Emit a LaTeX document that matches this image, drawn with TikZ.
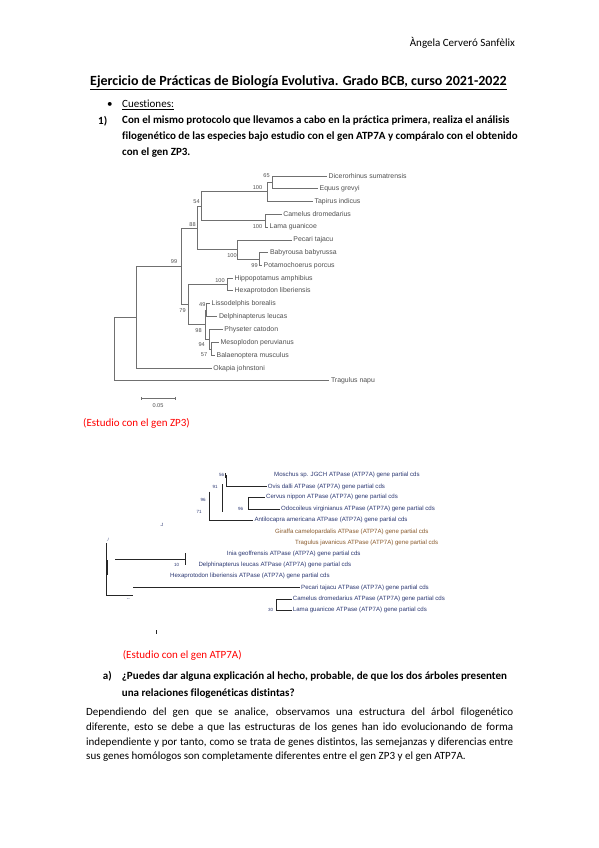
\documentclass[tikz,border=0pt]{standalone}
\usepackage{fontspec}
\setmainfont{Carlito}[Ligatures=NoCommon]
\newfontfamily\treefont{Liberation Sans}
\usetikzlibrary{positioning}
\definecolor{capred}{HTML}{FF0000}
\definecolor{treegray}{HTML}{707070}
\definecolor{labgray}{HTML}{505050}
\definecolor{atpblue}{HTML}{2B3772}
\definecolor{atpbrown}{HTML}{8A5A2B}

\begin{document}
\begin{tikzpicture}[x=1pt,y=-1pt,
    txt/.style={anchor=west,inner sep=0pt,font=\fontsize{11}{13}\selectfont},
    bold/.style={txt,font=\fontsize{11}{13}\selectfont\bfseries},
    caption/.style={txt,text=capred},
    leaf/.style={anchor=west,inner sep=1.5pt,text=labgray,font=\treefont\fontsize{6.9}{7}\selectfont},
    boot/.style={inner sep=0pt,text=labgray,font=\treefont\fontsize{5.6}{6}\selectfont},
    branch/.style={treegray,line width=0.6pt},
    gene/.style={anchor=west,inner sep=1pt,text=atpblue,font=\treefont\fontsize{6.1}{7}\selectfont},
    gboot/.style={inner sep=0pt,text=atpblue,font=\treefont\fontsize{4.5}{5}\selectfont},
    gbranch/.style={black!85,line width=0.8pt}]
    \fill[white] (0,0) rectangle (599,848);
    \useasboundingbox (0,0) rectangle (599,848);

    % cabecera y enunciado
    \node[txt,anchor=east] (autor) at (515,43) {Àngela Cerveró Sanfèlix};
    \node[txt,font=\fontsize{14}{16}\selectfont\bfseries] (titulo) at (90,83)
      {\underline{Ejercicio de Prácticas de Biología Evolutiva. Grado BCB, curso 2021-2022}};
    \node[txt] (bala) at (107,105) {•};
    \node[txt] (cuest) at (122,105) {\underline{Cuestiones:}};
    \node[bold] (num1) at (98,121) {1)};
    \node[bold] (q1a) at (122,121) {Con el mismo protocolo que llevamos a cabo en la práctica primera, realiza el análisis};
    \node[bold,below=16pt of q1a.west,anchor=west] (q1b) {filogenético de las especies bajo estudio con el gen ATP7A y compáralo con el obtenido};
    \node[bold,below=16pt of q1b.west,anchor=west] (q1c) {con el gen ZP3.};

    % arbol ZP3
    \coordinate (n65) at (272,182.2);
    \coordinate (n100a) at (267,191.7);
    \coordinate (n100b) at (265.5,220.7);
    \coordinate (n54) at (201.7,206.2);
    \coordinate (n99b) at (259.3,259.2);
    \coordinate (n100c) at (237.3,249.6);
    \coordinate (n88) at (197.7,227.9);
    \coordinate (n100d) at (227,284.4);
    \coordinate (n49) at (206.7,310.1);
    \coordinate (n57) at (211,348.9);
    \coordinate (n94) at (209.7,339.2);
    \coordinate (n98) at (205,324.7);
    \coordinate (n79) at (188.3,304.5);
    \coordinate (n99a) at (181.7,266.2);
    \coordinate (nok) at (136,317.3);
    \coordinate (root) at (114,349);

    \node[leaf] (dic) at (327,176) {Dicerorhinus sumatrensis};
    \node[leaf] (equ) at (318,188.3) {Equus grevyi};
    \node[leaf] (tap) at (313,201.3) {Tapirus indicus};
    \node[leaf] (cam) at (281.7,214.3) {Camelus dromedarius};
    \node[leaf] (lam) at (268,227) {Lama guanicoe};
    \node[leaf] (pec) at (291.7,240) {Pecari tajacu};
    \node[leaf] (bab) at (268.3,252.7) {Babyrousa babyrussa};
    \node[leaf] (pot) at (262,265.7) {Potamochoerus porcus};
    \node[leaf] (hip) at (233,278.3) {Hippopotamus amphibius};
    \node[leaf] (hex) at (233,290.5) {Hexaprotodon liberiensis};
    \node[leaf] (lis) at (210,303.5) {Lissodelphis borealis};
    \node[leaf] (del) at (217.3,316.7) {Delphinapterus leucas};
    \node[leaf] (phy) at (222.7,329.5) {Physeter catodon};
    \node[leaf] (mes) at (219,342.5) {Mesoplodon peruvianus};
    \node[leaf] (bal) at (215,355.3) {Balaenoptera musculus};
    \node[leaf] (oka) at (211.7,368.3) {Okapia johnstoni};
    \node[leaf] (tra) at (329.3,380.7) {Tragulus napu};

    \draw[branch] (n65) |- (dic.west) (n65) |- (equ.west)
      (n100a) |- (n65) (n100a) |- (tap.west)
      (n100b) |- (cam.west) (n100b) |- (lam.west)
      (n54) |- (n100a) (n54) |- (n100b)
      (n99b) |- (bab.west) (n99b) |- (pot.west)
      (n100c) |- (pec.west) (n100c) |- (n99b)
      (n88) |- (n54) (n88) |- (n100c)
      (n100d) |- (hip.west) (n100d) |- (hex.west)
      (n49) |- (lis.west) (n49) |- (del.west)
      (n57) |- (mes.west) (n57) |- (bal.west)
      (n94) |- (phy.west) (n94) |- (n57)
      (n98) |- (n49) (n98) |- (n94)
      (n79) |- (n100d) (n79) |- (n98)
      (n99a) |- (n88) (n99a) |- (n79)
      (nok) |- (n99a) (nok) |- (oka.west)
      (root) |- (nok) (root) |- (tra.west);

    \node[boot] (b65) at (266.5,176) {65};
    \node[boot] (b100a) at (257.5,187.5) {100};
    \node[boot] (b54) at (196.5,202) {54};
    \node[boot] (b88) at (192.5,225) {88};
    \node[boot] (b100b) at (257.5,227) {100};
    \node[boot] (b100c) at (232,256) {100};
    \node[boot] (b99b) at (254.5,266) {99};
    \node[boot] (b99a) at (174,262) {99};
    \node[boot] (b100d) at (220,280.7) {100};
    \node[boot] (b49) at (202.3,305) {49};
    \node[boot] (b79) at (182.5,311) {79};
    \node[boot] (b98) at (198.5,331) {98};
    \node[boot] (b94) at (201.7,345) {94};
    \node[boot] (b57) at (204,355) {57};

    \coordinate (sb1) at (141,398.3);
    \coordinate (sb2) at (175,398.3);
    \draw[branch] (sb1) -- (sb2) ([yshift=1.5pt]sb1) -- ([yshift=-1.5pt]sb1)
      ([yshift=1.5pt]sb2) -- ([yshift=-1.5pt]sb2);
    \node[boot] (sbl) at (158,406) {0.05};

    \node[caption] (capzp) at (83,423) {(Estudio con el gen ZP3)};

    % arbol ATP7A
    \node[gene] (mos) at (273,475) {Moschus sp. JGCH ATPase (ATP7A) gene partial cds};
    \node[gene] (ovi) at (266.7,486.7) {Ovis dalli ATPase (ATP7A) gene partial cds};
    \node[gene] (cer) at (265,497.3) {Cervus nippon ATPase (ATP7A) gene partial cds};
    \node[gene] (odo) at (280,509.3) {Odocoileus virginianus ATPase (ATP7A) gene partial cds};
    \node[gene] (ant) at (253.3,520) {Antilocapra americana ATPase (ATP7A) gene partial cds};
    \node[gene,text=atpbrown] (gir) at (274,531.7) {Giraffa camelopardalis ATPase (ATP7A) gene partial cds};
    \node[gene,text=atpbrown] (trg) at (294,543.3) {Tragulus javanicus ATPase (ATP7A) gene partial cds};
    \node[gene] (ini) at (225.7,554.3) {Inia geoffrensis ATPase (ATP7A) gene partial cds};
    \node[gene] (dlp) at (197.3,565) {Delphinapterus leucas ATPase (ATP7A) gene partial cds};
    \node[gene] (hxp) at (169,576) {Hexaprotodon liberiensis ATPase (ATP7A) gene partial cds};
    \node[gene] (pcr) at (300,587.5) {Pecari tajacu ATPase (ATP7A) gene partial cds};
    \node[gene] (cml) at (291.7,599.3) {Camelus dromedarius ATPase (ATP7A) gene partial cds};
    \node[gene] (lma) at (291.7,610) {Lama guanicoe ATPase (ATP7A) gene partial cds};

    \coordinate (g56a) at (225.7,473.3);
    \coordinate (g56b) at (225.7,478.3);
    \coordinate (govi) at (226.7,475);
    \coordinate (g91a) at (222.7,484);
    \coordinate (g91b) at (222.7,511.7);
    \coordinate (gcer) at (248.3,503.3);
    \coordinate (gant) at (209.3,491.7);
    \coordinate (rt1) at (106.7,543.3);
    \coordinate (rt2) at (133.3,595);
    \coordinate (rtk1) at (106.7,560);
    \coordinate (rtk2) at (106.7,575);
    \coordinate (sc1) at (115,559.3);
    \coordinate (sc2) at (185,559.3);
    \coordinate (sct1) at (185,553.3);
    \coordinate (sct2) at (185,565);
    \coordinate (gpcr) at (133.3,587.5);
    \coordinate (gcml) at (276.7,604.7);
    \coordinate (gtk1) at (156,630);
    \coordinate (gtk2) at (156,634);

    \draw[gbranch] (g56a) -- (g56b) (govi) |- (ovi.west) (g91a) -- (g91b)
      (gcer) |- (cer.west) (gcer) |- (odo.west) (gant) |- (ant.west)
      (rt1) |- (rt2) (sc1) -- (sc2) (sct1) -- (sct2) (gpcr) -- (pcr.west)
      (gcml) |- (cml.west) (gcml) |- (lma.west) (gtk1) -- (gtk2);
    \draw[gbranch,line width=1.8pt] (rtk1) -- (rtk2);

    \node[gboot] (g56) at (221.7,475) {56};
    \node[gboot] (g91) at (215,486.7) {91};
    \node[gboot] (g96a) at (203,500) {96};
    \node[gboot] (g71) at (199,512) {71};
    \node[gboot] (g96b) at (240.7,509.3) {96};
    \node[gboot] (gj) at (161.7,525) {.J};
    \node[gboot] (gsl) at (108.3,540) {/};
    \node[gboot] (g10) at (176.7,565) {10};
    \node[gboot] (gdd) at (128.3,600) {-{}-};
    \node[gboot] (g30) at (270.5,610) {30};

    \node[caption] (capatp) at (122.7,655) {(Estudio con el gen ATP7A)};

    % pregunta a) y respuesta
    \node[bold] (numa) at (102.7,676.7) {a)};
    \node[bold] (qa1) at (121.7,676.7) {¿Puedes dar alguna explicación al hecho, probable, de que los dos árboles presenten};
    \node[bold,below=16.6pt of qa1.west,anchor=west] (qa2) {una relaciones filogenéticas distintas?};
    \node[txt] (r1) at (86,713) {\makebox[427pt][s]{Dependiendo del gen que se analice, observamos una estructura del árbol filogenético}};
    \node[txt] (r2) at (86,727.7) {\makebox[427pt][s]{diferente, esto se debe a que las estructuras de los genes han ido evolucionando de forma}};
    \node[txt] (r3) at (86,742.3) {\makebox[427pt][s]{independiente y por tanto, como se trata de genes distintos, las semejanzas y diferencias entre}};
    \node[txt] (r4) at (86,757) {sus genes homólogos son completamente diferentes entre el gen ZP3 y el gen ATP7A.};
  \end{tikzpicture}
\end{document}
